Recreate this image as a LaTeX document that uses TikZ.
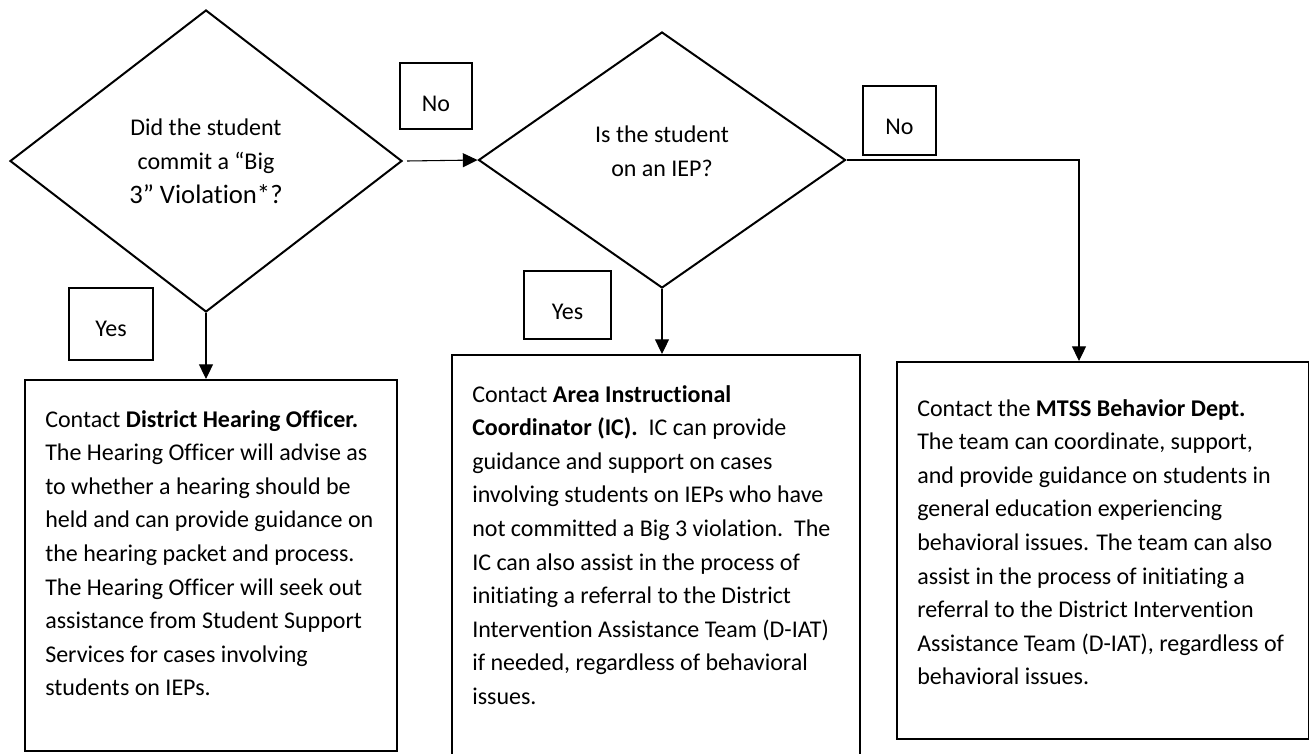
\documentclass[tikz,border=0pt]{standalone}
\usepackage{fontspec}
\setmainfont{Carlito}[Ligatures=NoCommon]
\usetikzlibrary{shapes.geometric,arrows.meta,positioning}

\tikzset{
  decision/.style={draw, diamond, line width=1.5pt, inner sep=0pt, align=center,
    font=\fontsize{18}{25.5}\selectfont},
  labelbox/.style={draw, line width=1.5pt, inner sep=0pt, text height=36pt,
    anchor=north west, font=\fontsize{18}{20}\selectfont},
  infobox/.style={draw, line width=1.5pt, inner sep=0pt, anchor=north west},
  infotext/.style={inner sep=0pt, anchor=north west, align=left,
    font=\fontsize{18}{25.2}\selectfont},
  flow/.style={line width=0.8pt, -{Triangle[length=11pt,width=10.5pt]}}
}

\begin{document}
\begin{tikzpicture}[x=0.75pt, y=-0.75pt]
\useasboundingbox (0,0) rectangle (1309,753);

% Decisions
\node[decision, minimum width=294pt, minimum height=226.5pt] (big3) at (206,161)
  {Did the student\\commit a “Big\\{\fontsize{20}{27}\selectfont 3” Violation*?}};
\node[decision, minimum width=275.25pt, minimum height=192pt, text depth=14pt] (iep) at (662,160)
  {Is the student\\on an IEP?};

% Yes / No labels
\node[labelbox, minimum width=54pt, text depth=13.5pt] (no1) at (399,62) {No};
\node[labelbox, minimum width=54.75pt, text depth=15.75pt] (no2) at (862,85) {No};
\node[labelbox, minimum width=63pt, text depth=18pt] (yes1) at (68,287) {Yes};
\node[labelbox, minimum width=65.25pt, text depth=15pt] (yes2) at (523,270) {Yes};

% Contact boxes
\node[infobox, minimum width=279pt, minimum height=278.25pt] (hearing) at (24,379) {};
\node[infobox, minimum width=306pt, minimum height=304.5pt] (coord) at (451,354) {};
\node[infobox, minimum width=309pt, minimum height=282.75pt] (mtss) at (896,361) {};

\node[infotext] (hearingtext) at (45,410)
  {Contact \textbf{District Hearing Officer.}\\
   The Hearing Officer will advise as\\
   to whether a hearing should be\\
   held and can provide guidance on\\
   the hearing packet and process.\\
   The Hearing Officer will seek out\\
   assistance from Student Support\\
   Services for cases involving\\
   students on IEPs.};
\node[infotext] (coordtext) at (472,385)
  {Contact \textbf{Area Instructional}\\
   \textbf{Coordinator (IC).}\ \ IC can provide\\
   guidance and support on cases\\
   involving students on IEPs who have\\
   not committed a Big 3 violation.\ \ The\\
   IC can also assist in the process of\\
   initiating a referral to the District\\
   Intervention Assistance Team (D-IAT)\\
   if needed, regardless of behavioral\\
   issues.};
\node[infotext] (mtsstext) at (917,399)
  {Contact the \textbf{MTSS Behavior Dept.}\\
   The team can coordinate, support,\\
   and provide guidance on students in\\
   general education experiencing\\
   behavioral issues. The team can also\\
   assist in the process of initiating a\\
   referral to the District Intervention\\
   Assistance Team (D-IAT), regardless of\\
   behavioral issues.};

% Connectors
\coordinate (turn) at (1079,160);
\draw[flow] ([xshift=3pt]big3.east) -- (iep.west);
\draw[flow] (big3.south) -- (big3.south |- hearing.north);
\draw[flow] (iep.south) -- (iep.south |- coord.north);
\draw[flow] (iep.east) -- (turn) -- (turn |- mtss.north);

\end{tikzpicture}
\end{document}
